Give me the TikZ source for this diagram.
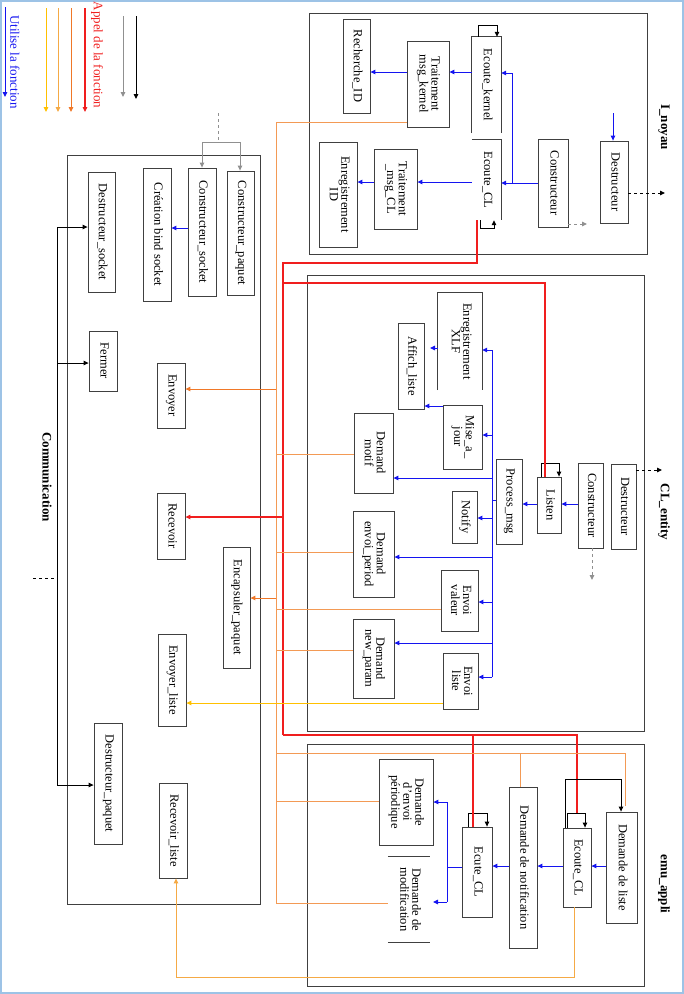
\documentclass[tikz,border=0pt]{standalone}
\usepackage{fontspec}
\setmainfont{Liberation Serif}
\usetikzlibrary{arrows.meta}
\definecolor{frameblue}{HTML}{9DC3E6}
\definecolor{yel}{HTML}{FFC000}
\definecolor{lor}{HTML}{F5AA45}
\definecolor{dor}{HTML}{F07828}
\definecolor{busor}{HTML}{F39A55}
\definecolor{gry}{HTML}{909090}
\definecolor{boxc}{HTML}{404040}
\definecolor{rd}{HTML}{F01E1E}
\definecolor{bl}{HTML}{1414F0}
\newcommand{\rt}[1]{\rotatebox{-90}{\begin{tabular}{@{}c@{}}#1\end{tabular}}}
\renewcommand{\arraystretch}{0.85}
\begin{document}
\begin{tikzpicture}[x=1pt,y=-1pt,
  >={Triangle[length=5pt,width=4.5pt]},
  bx/.style={draw=boxc, line width=0.8pt, inner sep=0pt, font=\fontsize{12.5}{13}\selectfont},
  ob/.style={inner sep=0pt, font=\fontsize{12.5}{13}\selectfont},
  sz/.style 2 args={minimum width=#1pt, minimum height=#2pt},
  boxline/.style={draw=boxc, line width=0.8pt},
  con/.style={line width=1pt},
  bl/.style={con, draw=bl, ->},
  blc/.style={con, draw=bl},
  busc/.style={con, draw=busor},
  dorc/.style={con, draw=dor},
  yelc/.style={con, draw=yel},
  lorc/.style={con, draw=lor},
  redc/.style={line width=1.1pt, draw=rd},
  grc/.style={con, draw=gry},
  ttl/.style={rotate=-90, font=\fontsize{13}{14}\selectfont\bfseries},
  leg/.style={rotate=-90, font=\fontsize{13}{14}\selectfont}
]
\useasboundingbox (0,0) rectangle (684,994);
\draw[frameblue, line width=1.5pt] (1,1) rectangle (683,993);

% ---------- legend ----------
\coordinate (l1a) at (5,7);   \coordinate (l1b) at (5,97);
\coordinate (l2a) at (46,8);  \coordinate (l2b) at (46,112);
\coordinate (l3a) at (58,8);  \coordinate (l3b) at (58,112);
\coordinate (l4a) at (71,8);  \coordinate (l4b) at (71,112);
\coordinate (l5a) at (85,8);  \coordinate (l5b) at (85,112);
\coordinate (l6a) at (123,16); \coordinate (l6b) at (123,97);
\coordinate (l7a) at (136,16); \coordinate (l7b) at (136,99);
\draw[bl] (l1a) -- (l1b);
\draw[yelc, ->] (l2a) -- (l2b);
\draw[lorc, ->] (l3a) -- (l3b);
\draw[dorc, ->] (l4a) -- (l4b);
\draw[redc, ->] (l5a) -- (l5b);
\draw[grc, ->] (l6a) -- (l6b);
\draw[con, ->] (l7a) -- (l7b);
\node[leg, text=bl] (lt1) at (15,62) {Utilise la fonction};
\node[leg, text=rd] (lt2) at (97,55) {Appel de la fonction};

% ---------- containers ----------
\node[bx, sz={338}{241}] (noy) at (478,133.5) {};
\node[bx, sz={193}{749}] (com) at (163.5,529.5) {};
\node[bx, sz={337}{456}] (cle) at (475.5,503) {};
\node[bx, sz={337}{242}] (emu) at (475.5,865) {};
\node[ttl] (noyl) at (664,127) {I\_noyau};
\node[ttl] (coml) at (47,477) {Communication};
\node[ttl] (clel) at (664,512) {CL\_entity};
\node[ttl] (emul) at (664,884) {emu\_appli};

% ---------- I_noyau ----------
\node[bx, sz={27}{94}]  (rid)   at (356.5,66)  {\rt{Recherche\_ID}};
\node[bx, sz={42}{86}]  (tmk)   at (428,84)    {\rt{Traitement\\msg\_kernel}};
\node[ob, sz={29}{96}]  (ek)    at (486.5,85)  {\rt{Ecoute\_kernel}};
\node[ob, sz={29}{80}]  (ecl)   at (486.5,180) {\rt{Ecoute\_CL}};
\node[bx, sz={43}{80}]  (tmc)   at (395.5,189) {\rt{Traitement\\\_msg\_CL}};
\node[bx, sz={38}{105}] (eid)   at (338,194.5) {\rt{Enregistrement\\ID}};
\node[bx, sz={30}{88}]  (ncons) at (553,183)   {\rt{Constructeur}};
\node[bx, sz={28}{82}]  (ndes)  at (614,182)   {\rt{Destructeur}};
\draw[boxline] (ek.south west) -- (ek.north west) -- (ek.north east) -- (ek.south east);
\draw[boxline] (ecl.north west) -- (ecl.north east) -- (ecl.south east);

\coordinate (nj1) at (512,183);
\coordinate (nj2) at (512,73);
\draw[blc] (ncons.west |- nj1) -- (nj1);
\draw[bl] (nj1) -- (ecl.east |- nj1);
\draw[bl] (nj1) -- (nj2) -- (ek.east |- nj2);
\draw[bl] (ek.west |- 0,72) -- (tmk.east |- 0,72);
\draw[bl] (tmk.west |- 0,72) -- (rid.east |- 0,72);
\draw[bl] (ecl.west |- 0,182) -- (tmc.east |- 0,182);
\draw[bl] (tmc.west |- 0,182) -- (eid.east |- 0,182);
\coordinate (dtop) at (613,113);
\draw[bl] (dtop) -- (ndes.north -| dtop);
\coordinate (ngr) at (587,224);
\draw[grc, dashed, ->] (ncons.east |- ngr) -- (ngr);
\coordinate (ndo) at (665,193);
\draw[con, dashed, ->] (ndes.east |- ndo) -- (ndo);
\draw[con, ->] (ek.north -| 478,0) -- (478,25) -- (497,25) -- (ek.north -| 497,0);
\draw[con, ->] (ecl.south -| 480,0) -- (480,228) -- (494,228) -- (ecl.south -| 494,0);

% buses
\coordinate (ob1) at (276,122);
\coordinate (ob2) at (276,903);
\draw[busc] (tmk.west |- ob1) -- (ob1) -- (ob2);
\coordinate (rb1) at (283,263);
\coordinate (rb2) at (283,735);
\draw[redc] (ecl.south -| 477,0) -- (477,263) -- (rb1) -- (rb2);

% ---------- Communication ----------
\node[bx, sz={27}{120}] (ds)   at (101.5,232) {\rt{Destructeur\_socket}};
\node[bx, sz={28}{133}] (cbs)  at (157,234.5) {\rt{Création bind socket}};
\node[bx, sz={28}{128}] (cso)  at (202,232)   {\rt{Constructeur\_socket}};
\node[bx, sz={27}{124}] (cpa)  at (240.5,233) {\rt{Constructeur\_paquet}};
\node[bx, sz={28}{60}]  (fer)  at (103,361)   {\rt{Fermer}};
\node[bx, sz={28}{65}]  (env)  at (171,395.5) {\rt{Envoyer}};
\node[bx, sz={28}{66}]  (rec)  at (171,526)   {\rt{Recevoir}};
\node[bx, sz={27}{121}] (enc)  at (236.5,607.5) {\rt{Encapsuler\_paquet}};
\node[bx, sz={28}{92}]  (envl) at (172,680)   {\rt{Envoyer\_liste}};
\node[bx, sz={28}{121}] (dp)   at (108,783.5) {\rt{Destructeur\_paquet}};
\node[bx, sz={28}{95}]  (recl) at (173,830.5) {\rt{Recevoir\_liste}};

\draw[bl] (cso.west |- 0,228) -- (cbs.east |- 0,228);
\coordinate (gt) at (218,113);
\coordinate (gj) at (218,142);
\draw[grc, dashed] (gt) -- (gj);
\draw[grc, ->] (gj) -- (202,142) -- (cso.north -| 202,0);
\draw[grc, ->] (gj) -- (240,142) -- (cpa.north -| 240,0);
\coordinate (kb1) at (57,227);
\coordinate (kb2) at (57,363);
\coordinate (kb3) at (57,785);
\coordinate (kd) at (33,578);
\draw[con] (kb1) -- (kb3);
\draw[con, ->] (kb1) -- (ds.west |- kb1);
\draw[con, ->] (kb2) -- (fer.west |- kb2);
\draw[con, ->] (kb3) -- (dp.west |- kb3);
\draw[con, dashed] (kd) -- (57,578);
\draw[dorc, ->] (276,389) -- (env.east |- 0,389);
\draw[redc, ->] (283,517) -- (rec.east |- 0,517);
\draw[dorc, ->] (276,598) -- (enc.east |- 0,598);

% ---------- CL_entity ----------
\node[ob, sz={44}{97}] (exlf) at (460,341.5) {\rt{Enregistrement\\XLF}};
\node[bx, sz={26}{86}] (aff)  at (411,366)   {\rt{Affich\_liste}};
\node[bx, sz={39}{64}] (maj)  at (462.5,437) {\rt{Mise\_a\_\\jour}};
\node[bx, sz={39}{80}] (dmo)  at (373.5,453) {\rt{Demand\\motif}};
\node[bx, sz={26}{85}] (pm)   at (509,501.5) {\rt{Process\_msg}};
\node[bx, sz={24}{56}] (lis)  at (549,505)   {\rt{Listen}};
\node[bx, sz={25}{85}] (ccons) at (590.5,505.5) {\rt{Constructeur}};
\node[bx, sz={25}{85}] (cdes) at (623.5,506.5) {\rt{Destructeur}};
\node[bx, sz={25}{52}] (ntf)  at (464.5,517) {\rt{Notify}};
\node[bx, sz={41}{86}] (dep)  at (373.5,554) {\rt{Demand\\envoi\_period}};
\node[bx, sz={37}{61}] (evv)  at (459.5,600.5) {\rt{Envoi\\valeur}};
\node[bx, sz={41}{79}] (dnp)  at (373.5,658.5) {\rt{Demand\\new\_param}};
\node[bx, sz={35}{56}] (evl)  at (460.5,681) {\rt{Envoi\\liste}};
\draw[boxline] (exlf.south west) -- (exlf.north west) -- (exlf.north east) -- (exlf.south east);

\draw[bl] (ccons.west |- 0,504) -- (lis.east |- 0,504);
\draw[bl] (lis.west |- 0,504) -- (pm.east |- 0,504);
\coordinate (cb1) at (492,350);
\coordinate (cb2) at (492,677);
\draw[blc] (pm.west |- 0,500) -- (492,500);
\draw[blc] (cb1) -- (cb2);
\draw[bl] (cb1) -- (exlf.east |- cb1);
\draw[bl] (492,435) -- (maj.east |- 0,435);
\draw[bl] (492,478) -- (dmo.east |- 0,478);
\draw[bl] (492,518) -- (ntf.east |- 0,518);
\draw[bl] (492,557) -- (dep.east |- 0,557);
\draw[bl] (492,602) -- (evv.east |- 0,602);
\draw[bl] (492,643) -- (dnp.east |- 0,643);
\draw[bl] (cb2) -- (evl.east |- cb2);
\draw[bl] (maj.west |- 0,406) -- (aff.east |- 0,406);
\draw[bl] (exlf.west |- 0,348) -- (430,348);
\draw[con, ->] (lis.north -| 541,0) -- (541,463) -- (559,463) -- (lis.north -| 559,0);
\coordinate (cdo) at (662,470);
\draw[con, dashed, ->] (cdes.east |- cdo) -- (cdo);
\coordinate (cgr) at (592,580);
\draw[grc, dashed, ->] (ccons.south -| cgr) -- (cgr);
\draw[redc] (283,283) -- (545,283) -- (lis.north -| 545,0);
\draw[busc] (276,454) -- (dmo.west |- 0,454);
\draw[busc] (276,552) -- (dep.west |- 0,552);
\draw[busc] (276,609) -- (evv.west |- 0,609);
\draw[busc] (276,650) -- (dnp.west |- 0,650);
\draw[yelc, ->] (evl.west |- 0,703) -- (envl.east |- 0,703);

% ---------- emu_appli ----------
\node[bx, sz={54}{86}]  (dep2) at (406,802)   {\rt{Demande\\d'envoi\\périodique}};
\node[ob, sz={42}{85}]  (dmod) at (409,899.5) {\rt{Demande de\\modification}};
\node[bx, sz={30}{90}]  (ecu)  at (477,872)   {\rt{Ecute\_CL}};
\node[bx, sz={28}{161}] (dno)  at (523,867.5) {\rt{Demande de notification}};
\node[bx, sz={28}{79}]  (eco)  at (577,867.5) {\rt{Ecoute\_CL}};
\node[bx, sz={31}{111}] (dli)  at (621.5,867.5) {\rt{Demande de liste}};
\draw[boxline] (dmod.north west) -- (dmod.north east);
\draw[boxline] (dmod.south west) -- (dmod.south east);

\draw[bl] (dli.west |- 0,866) -- (eco.east |- 0,866);
\draw[bl] (eco.west |- 0,866) -- (dno.east |- 0,866);
\draw[bl] (dno.west |- 0,866) -- (ecu.east |- 0,866);
\coordinate (eb1) at (447,802);
\coordinate (eb2) at (447,902);
\draw[blc] (ecu.west |- 0,867) -- (447,867);
\draw[blc] (eb1) -- (eb2);
\draw[bl] (eb1) -- (dep2.east |- eb1);
\draw[bl] (eb2) -- (433,902);
\draw[con, ->] (ecu.north -| 468,0) -- (468,813) -- (487,813) -- (ecu.north -| 487,0);
\draw[con, ->] (eco.north -| 567,0) -- (567,813) -- (585,813) -- (eco.north -| 585,0);
\draw[redc] (rb2) -- (577,735) -- (577,813);
\draw[redc] (473,735) -- (ecu.north -| 473,0);
\draw[busc] (276,753) -- (625,753) -- (625,806);
\draw[busc] (520,753) -- (dno.north -| 520,0);
\draw[busc] (276,801) -- (dep2.west |- 0,801);
\draw[busc] (276,903) -- (dmod.west |- 0,903);
\draw[con, ->] (eco.north -| 565,0) -- (565,779) -- (621,779) -- (dli.north -| 621,0);
\draw[lorc, ->] (eco.south -| 574,0) -- (574,977) -- (176,977) -- (recl.south -| 176,0);
\end{tikzpicture}
\end{document}
